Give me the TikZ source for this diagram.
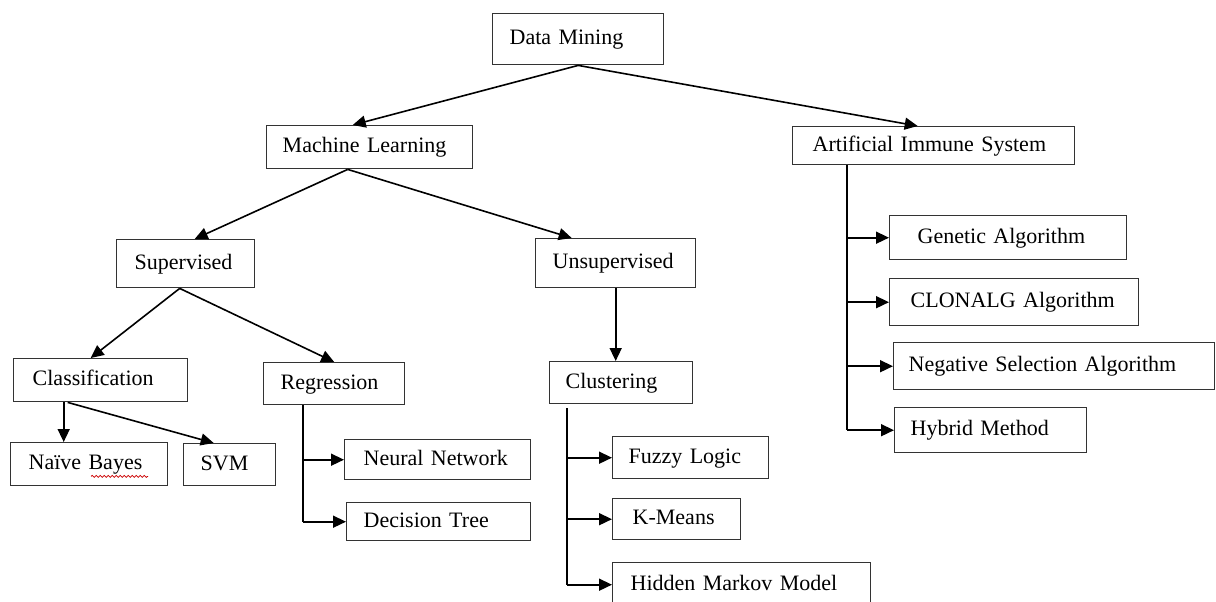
\documentclass[tikz,border=0pt]{standalone}
\usepackage{fontspec}
\setmainfont{Liberation Serif}
\usetikzlibrary{arrows.meta,calc,decorations.pathmorphing}

\tikzset{
  box/.style={draw=black!80,line width=0.7pt,anchor=north west,align=left,
    inner ysep=0pt,text height=8pt,text depth=2.5pt,font=\fontsize{11}{13}\selectfont},
  link/.style={line width=0.8pt,-{Triangle[length=6.5pt,width=6pt]}},
  bus/.style={line width=0.8pt},
  spell/.style={red!80!black,line width=0.4pt,decorate,
    decoration={snake,amplitude=0.5pt,segment length=2pt}}
}

\begin{document}
\begin{tikzpicture}[x=0.5pt,y=-0.5pt]
  \path[use as bounding box,fill=white] (0,0) rectangle (1216,601);

  % levels 1 and 2
  \node[box,inner xsep=8.5pt,text width=68.5pt,minimum height=25.5pt] (dm) at (492,13) {Data Mining};
  \node[box,inner xsep=8pt,text width=87pt,minimum height=21.5pt] (ml) at (266,125) {Machine Learning};
  \node[box,inner xsep=10pt,text width=121pt,minimum height=19pt] (ais) at (792,126) {Artificial Immune System};

  % machine learning
  \node[box,inner xsep=9pt,text width=51pt,minimum height=24pt] (sup) at (116,239) {Supervised};
  \node[box,inner xsep=8.5pt,text width=63pt,minimum height=24.5pt] (unsup) at (535,238) {Unsupervised};
  \node[box,inner xsep=9.5pt,text width=68pt,minimum height=21.5pt] (cls) at (13,358) {Classification};
  \node[box,inner xsep=8.5pt,text width=53.5pt,minimum height=21pt] (reg) at (263,362) {Regression};
  \node[box,inner xsep=9pt,text width=60.5pt,minimum height=21.5pt] (nb) at (10,442) {Naïve Bayes};
  \node[box,inner xsep=8.5pt,text width=29pt,minimum height=21pt] (svm) at (183,443) {SVM};
  \node[box,inner xsep=9.5pt,text width=74pt,minimum height=20pt] (nn) at (344,439) {Neural Network};
  \node[box,inner xsep=8.5pt,text width=75pt,minimum height=19pt] (dt) at (346,502) {Decision Tree};
  \node[box,inner xsep=8pt,text width=55.5pt,minimum height=21pt] (clu) at (549,361) {Clustering};
  \node[box,inner xsep=8pt,text width=62pt,minimum height=21pt] (fl) at (612,436) {Fuzzy Logic};
  \node[box,inner xsep=10pt,text width=44pt,minimum height=20.5pt] (km) at (612,498) {K-Means};
  \node[box,inner xsep=9pt,text width=111pt,minimum height=22pt] (hmm) at (612,562) {Hidden Markov Model};

  % immune system
  \node[box,inner xsep=14pt,text width=90.5pt,minimum height=22pt] (ga) at (889,215) {Genetic Algorithm};
  \node[box,inner xsep=10.5pt,text width=103.5pt,minimum height=23.5pt] (clon) at (889,278) {CLONALG Algorithm};
  \node[box,inner xsep=7.5pt,text width=145.5pt,minimum height=23.5pt] (nsa) at (893,342) {Negative Selection Algorithm};
  \node[box,inner xsep=8pt,text width=80pt,minimum height=22.5pt] (hyb) at (894,407) {Hybrid Method};

  \draw[spell] ([shift={(40.5pt,5pt)}]nb.south west) -- ([shift={(69pt,5pt)}]nb.south west);

  % tree arrows
  \draw[link] (dm.south) -- ([xshift=-8.5pt]ml.north);
  \draw[link] (dm.south) -- ([xshift=-8pt]ais.north);
  \draw[link] ([xshift=-11pt]ml.south) -- ([xshift=4.5pt]sup.north);
  \draw[link] ([xshift=-11pt]ml.south) -- ([xshift=-22pt]unsup.north);
  \draw[link] ([xshift=-3pt]sup.south) -- ([xshift=-5pt]cls.north);
  \draw[link] ([xshift=-3pt]sup.south) -- (reg.north);
  \coordinate (clsfoot) at ([xshift=-18.5pt]cls.south);
  \draw[link] (clsfoot) -- (clsfoot |- nb.north);
  \draw[link] ([xshift=2pt]clsfoot) -- ([xshift=-8pt]svm.north);
  \draw[link] (unsup.south) -- (unsup.south |- clu.north);

  % side buses
  \coordinate (regbus) at ([xshift=-15.75pt]reg.south);
  \draw[bus] (regbus) -- (regbus |- dt.west);
  \foreach \n in {nn,dt} \draw[link] (regbus |- \n.west) -- (\n.west);

  \coordinate (clubus) at ([xshift=-27.25pt,yshift=-2pt]clu.south);
  \draw[bus] (clubus) -- (clubus |- hmm.west);
  \foreach \n in {fl,km,hmm} \draw[link] (clubus |- \n.west) -- (\n.west);

  \coordinate (aisbus) at ([xshift=-43.5pt]ais.south);
  \draw[bus] (aisbus) -- (aisbus |- hyb.west);
  \foreach \n in {ga,clon,nsa,hyb} \draw[link] (aisbus |- \n.west) -- (\n.west);
\end{tikzpicture}
\end{document}
